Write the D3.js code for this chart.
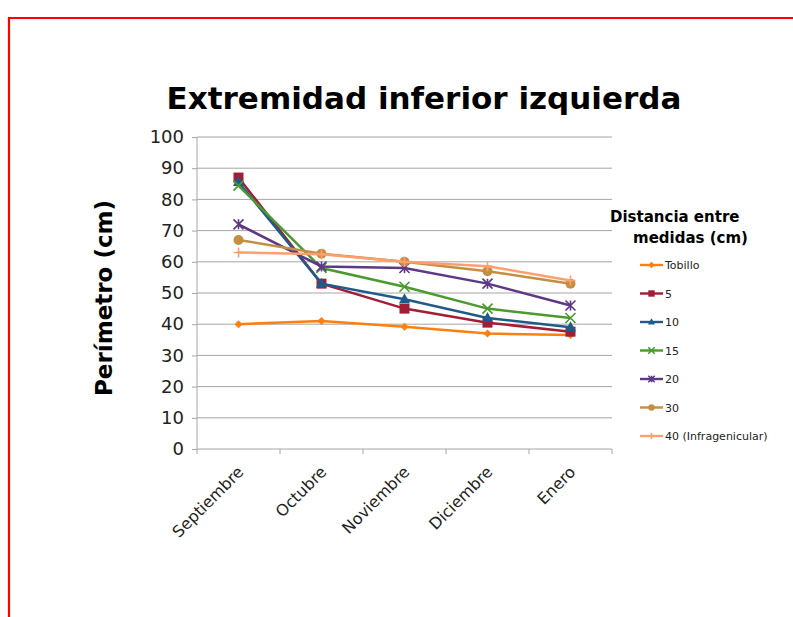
<!DOCTYPE html>
<html><head><meta charset="utf-8">
<script src="https://cdn.jsdelivr.net/npm/d3@7"></script>
<style>body{margin:0;background:#fff}svg{display:block}</style>
</head><body>
<svg id="c" width="793" height="617"></svg>
<script>
const months = ["Septiembre","Octubre","Noviembre","Diciembre","Enero"];
const seriesNames = ["Tobillo","5","10","15","20","30","40 (Infragenicular)"];
const tobillo = [40, 41, 39.2, 37, 36.5];
const s5 = [87, 53, 45, 40.5, 37.6];
const s10 = [85.6, 53, 48, 42, 39];
const s15 = [84.4, 58, 52, 45, 42];
const s20 = [72, 58.5, 58, 53, 46];
const s30 = [67, 62.6, 60, 57, 53];
const s40 = [63, 62.4, 60, 58.6, 54];
const yTicks = [0,10,20,30,40,50,60,70,80,90,100];
const colors = ["#FF7F0E","#A11E36","#1F5B8A","#4B9A2E","#5C3885","#C38F40","#FF9F70"];
const markers = ["diamond","square","triangle","x","star","circle","plus"];
const allValues = [tobillo,s5,s10,s15,s20,s30,s40];

const svg = d3.select("#c");
const font = "DejaVu Sans, Verdana, sans-serif";

// red frame
svg.append("path").attr("d","M9,617 V18 H793").attr("fill","none").attr("stroke","#ff0000").attr("stroke-width",2.2);

const x = d3.scaleBand().domain(months).range([197,612]);
const y = d3.scaleLinear().domain([0,100]).range([449,137]);

// gridlines
svg.append("g").selectAll("line").data(yTicks.slice(1)).join("line")
  .attr("x1",197).attr("x2",612).attr("y1",d=>y(d)).attr("y2",d=>y(d))
  .attr("stroke","#a6a6a6").attr("stroke-width",1);

// y axis
const ya = svg.append("g").attr("transform","translate(197,0)")
  .call(d3.axisLeft(y).tickValues(yTicks).tickSize(5).tickPadding(8));
ya.select(".domain").attr("stroke","#a6a6a6").attr("d","M0,137V449");
ya.selectAll(".tick line").attr("stroke","#a6a6a6");
ya.selectAll("text").attr("font-family",font).attr("font-size",18).attr("fill","#222");

// x axis
const xa = svg.append("g").attr("transform","translate(0,449)")
  .call(d3.axisBottom(x).tickSize(0).tickFormat(""));
xa.select(".domain").attr("stroke","#a6a6a6").attr("d","M197,0H612");
const edges = d3.range(months.length+1).map(i=>197+i*x.step());
xa.selectAll(".edge").data(edges).join("line").attr("class","edge")
  .attr("x1",d=>d).attr("x2",d=>d).attr("y1",0).attr("y2",5).attr("stroke","#a6a6a6");
xa.selectAll(".lbl").data(months).join("text").attr("class","lbl")
  .attr("transform",d=>`translate(${x(d)+x.bandwidth()/2+6},${24}) rotate(-45)`)
  .attr("text-anchor","end").attr("font-family",font).attr("font-size",16).attr("fill","#222")
  .text(d=>d);

// title
svg.append("text").attr("x",424).attr("y",109).attr("text-anchor","middle")
  .attr("font-family",font).attr("font-weight","bold").attr("font-size",31).attr("fill","#000")
  .text("Extremidad inferior izquierda");
// y label
svg.append("text").attr("transform","translate(112,298) rotate(-90)").attr("text-anchor","middle")
  .attr("font-family",font).attr("font-weight","bold").attr("font-size",23).attr("fill","#000")
  .text("Perímetro (cm)");

function marker(g, type, color, size){
  const s = size;
  if(type==="diamond") g.append("path").attr("d",`M0,${-s}L${s},0L0,${s}L${-s},0Z`).attr("fill",color);
  else if(type==="square") g.append("rect").attr("x",-s).attr("y",-s).attr("width",2*s).attr("height",2*s).attr("fill",color);
  else if(type==="triangle") g.append("path").attr("d",`M0,${-s*1.2}L${s*1.1},${s*0.8}L${-s*1.1},${s*0.8}Z`).attr("fill",color);
  else if(type==="circle") g.append("circle").attr("r",s).attr("fill",color);
  else if(type==="x") g.append("path").attr("d",`M${-s},${-s}L${s},${s}M${-s},${s}L${s},${-s}`).attr("stroke",color).attr("stroke-width",1.6);
  else if(type==="star") g.append("path").attr("d",`M${-s},${-s}L${s},${s}M${-s},${s}L${s},${-s}M0,${-s}V${s}`).attr("stroke",color).attr("stroke-width",1.6);
  else if(type==="plus") g.append("path").attr("d",`M${-s},0H${s}M0,${-s}V${s}`).attr("stroke",color).attr("stroke-width",1.6);
}

const line = d3.line().x((d,i)=>x(months[i])+x.bandwidth()/2).y(d=>y(d));
const sizes = [4,5,5,5,5,5,5];
allValues.forEach((vals,k)=>{
  const g = svg.append("g");
  g.append("path").datum(vals).attr("d",line).attr("fill","none")
    .attr("stroke",colors[k]).attr("stroke-width",2.5);
  vals.forEach((v,i)=>{
    const mg = g.append("g").attr("transform",`translate(${x(months[i])+x.bandwidth()/2},${y(v)})`);
    marker(mg, markers[k], colors[k], sizes[k]);
  });
});

// legend
const lt = svg.append("text").attr("font-family",font).attr("font-weight","bold").attr("font-size",15).attr("fill","#000");
lt.append("tspan").attr("x",610).attr("y",222).text("Distancia entre");
lt.append("tspan").attr("x",633).attr("y",243).text("medidas (cm)");
seriesNames.forEach((n,k)=>{
  const ly = 265 + k*28.5;
  const g = svg.append("g");
  g.append("line").attr("x1",640).attr("x2",663).attr("y1",ly).attr("y2",ly).attr("stroke",colors[k]).attr("stroke-width",2.4);
  const mg = g.append("g").attr("transform",`translate(651.5,${ly})`);
  marker(mg, markers[k], colors[k], 3.2);
  g.append("text").attr("x",665).attr("y",ly+4).attr("font-family",font).attr("font-size",11).attr("fill","#222").text(n);
});
</script>
</body></html>
